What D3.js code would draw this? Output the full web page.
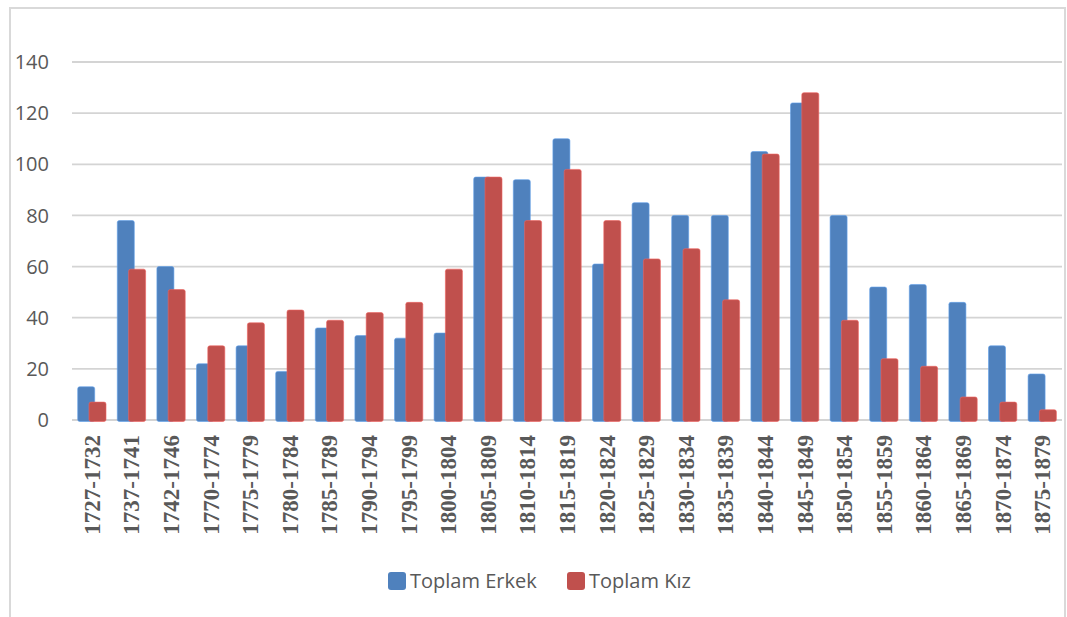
<!DOCTYPE html>
<html>
<head>
<meta charset="utf-8">
<script src="https://cdn.jsdelivr.net/npm/d3@7"></script>
<style>
  body { margin: 0; background: #fff; }
  svg { display: block; }
</style>
</head>
<body>
<div id="chart"></div>
<script>
const periods = ["1727-1732", "1737-1741", "1742-1746", "1770-1774", "1775-1779", "1780-1784",
  "1785-1789", "1790-1794", "1795-1799", "1800-1804", "1805-1809", "1810-1814", "1815-1819",
  "1820-1824", "1825-1829", "1830-1834", "1835-1839", "1840-1844", "1845-1849", "1850-1854",
  "1855-1859", "1860-1864", "1865-1869", "1870-1874", "1875-1879"];
const erkek = [13, 78, 60, 22, 29, 19, 36, 33, 32, 34, 95, 94, 110, 61, 85, 80, 80, 105, 124, 80, 52, 53, 46, 29, 18];
const kiz = [7, 59, 51, 29, 38, 43, 39, 42, 46, 59, 95, 78, 98, 78, 63, 67, 47, 104, 128, 39, 24, 21, 9, 7, 4];
const yTicks = [0, 20, 40, 60, 80, 100, 120, 140];
const seriesNames = ["Toplam Erkek", "Toplam Kız"];
const colors = ["#4F81BD", "#C0504D"];

const W = 1067, H = 617;
const svg = d3.select("#chart").append("svg").attr("width", W).attr("height", H);

// chart frame
svg.append("path")
  .attr("d", "M10,617 V8 H1065 V617")
  .attr("fill", "none")
  .attr("stroke", "#D9D9D9")
  .attr("stroke-width", 2);

const x = d3.scaleBand().domain(periods).range([72, 1062]);
const y = d3.scaleLinear().domain([0, 140]).range([420, 62]);

// gridlines
svg.append("g").selectAll("line")
  .data(yTicks)
  .join("line")
    .attr("x1", 72).attr("x2", 1062)
    .attr("y1", d => y(d)).attr("y2", d => y(d))
    .attr("stroke", "#D4D4D4")
    .attr("stroke-width", 1.8);

// y labels
svg.append("g").selectAll("text")
  .data(yTicks)
  .join("text")
    .attr("x", 49)
    .attr("y", d => y(d))
    .attr("dy", "0.36em")
    .attr("text-anchor", "end")
    .attr("fill", "#595959")
    .style("font-family", "'Open Sans', sans-serif")
    .style("font-size", "20px")
    .text(d => d);

const barW = 17;
const offsets = [-14.1, -2.8];
[erkek, kiz].forEach((vals, s) => {
  svg.append("g").selectAll("rect")
    .data(vals)
    .join("rect")
      .attr("x", (d, i) => x(periods[i]) + x.bandwidth() / 2 + offsets[s])
      .attr("y", d => y(d))
      .attr("width", barW)
      .attr("height", d => y(0) - y(d) + 1.5)
      .attr("rx", 2)
      .attr("fill", colors[s])
      .attr("stroke", d3.color(colors[s]).brighter(0.6))
      .attr("stroke-width", 0.6);
});

// category labels
svg.append("g").selectAll("text")
  .data(periods)
  .join("text")
    .attr("transform", d => `translate(${x(d) + x.bandwidth() / 2 + 8},435) rotate(-90)`)
    .attr("text-anchor", "end")
    .attr("fill", "#595959")
    .style("font-family", "'Liberation Serif', 'Times New Roman', serif")
    .style("font-weight", "bold")
    .style("font-size", "23px")
    .text(d => d);

// legend
const legendX = [388, 567];
seriesNames.forEach((name, s) => {
  const g = svg.append("g").attr("transform", `translate(${legendX[s]},572)`);
  g.append("rect")
    .attr("width", 18).attr("height", 18).attr("rx", 3)
    .attr("fill", colors[s]);
  g.append("text")
    .attr("x", 22).attr("y", 16)
    .attr("fill", "#595959")
    .style("font-family", "'Open Sans', sans-serif")
    .style("font-size", "20px")
    .text(name);
});
</script>
</body>
</html>
